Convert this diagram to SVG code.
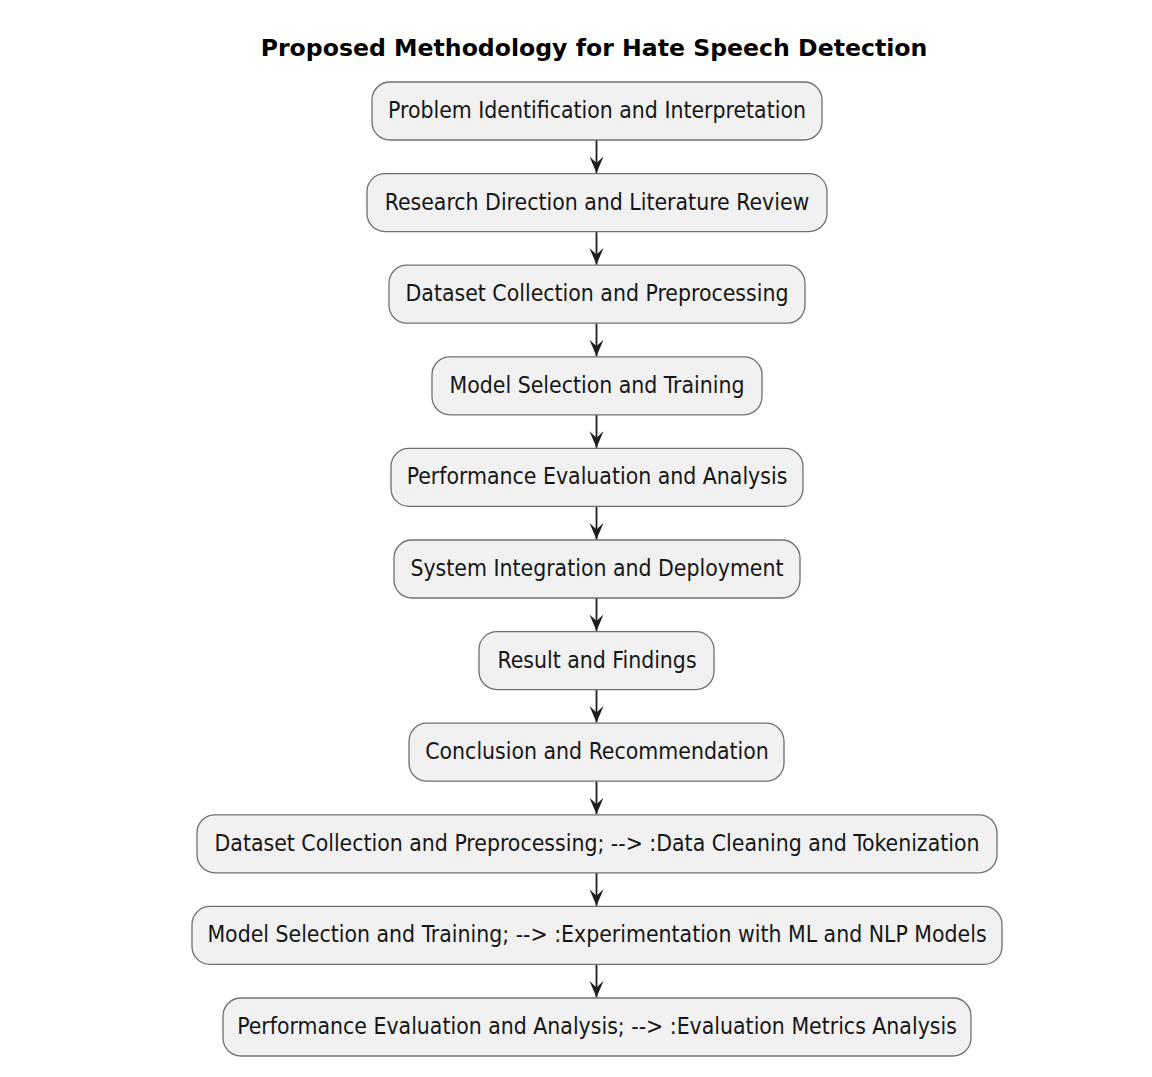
<svg xmlns="http://www.w3.org/2000/svg" width="1152" height="1077" viewBox="0 0 1152 1077">
<defs>
<style>
.bg{fill:#ffffff}
.node rect{fill:#f1f1f1;stroke:#707070;stroke-width:1.3}
.node text{font-family:"DejaVu Sans Condensed","DejaVu Sans",sans-serif;font-stretch:condensed;font-size:22.8px;fill:#161616;text-anchor:middle}
.title{font-family:"DejaVu Sans","Liberation Sans",sans-serif;font-weight:bold;font-size:23.6px;fill:#000;text-anchor:middle}
.edge{stroke:#1e1e1e;stroke-width:1.8;fill:none}
.head{fill:#1e1e1e;stroke:none}
</style>
<marker id="ah" viewBox="0 -8 17 16" refX="16.5" refY="0" markerWidth="17" markerHeight="16" markerUnits="userSpaceOnUse" orient="auto">
<path class="head" d="M0,-7 L16.5,0 L0,7 L6.5,0 Z"/>
</marker>
</defs>
<rect class="bg" x="0" y="0" width="1152" height="1077"/>
<text class="title" x="594" y="55.5">Proposed Methodology for Hate Speech Detection</text>

<g id="edges">
<line class="edge" x1="596.5" y1="140" x2="596.5" y2="173" marker-end="url(#ah)"/>
<line class="edge" x1="596.5" y1="231.6" x2="596.5" y2="264.6" marker-end="url(#ah)"/>
<line class="edge" x1="596.5" y1="323.2" x2="596.5" y2="356.2" marker-end="url(#ah)"/>
<line class="edge" x1="596.5" y1="414.8" x2="596.5" y2="447.8" marker-end="url(#ah)"/>
<line class="edge" x1="596.5" y1="506.4" x2="596.5" y2="539.4" marker-end="url(#ah)"/>
<line class="edge" x1="596.5" y1="598" x2="596.5" y2="631" marker-end="url(#ah)"/>
<line class="edge" x1="596.5" y1="689.6" x2="596.5" y2="722.6" marker-end="url(#ah)"/>
<line class="edge" x1="596.5" y1="781.2" x2="596.5" y2="814.2" marker-end="url(#ah)"/>
<line class="edge" x1="596.5" y1="872.8" x2="596.5" y2="905.8" marker-end="url(#ah)"/>
<line class="edge" x1="596.5" y1="964.4" x2="596.5" y2="997.4" marker-end="url(#ah)"/>
</g>

<g id="n1" class="node"><rect x="372" y="82" width="450" height="58" rx="18"/><text x="597" y="118">Problem Identification and Interpretation</text></g>
<g id="n2" class="node"><rect x="367" y="173.6" width="460" height="58" rx="18"/><text x="597" y="209.6">Research Direction and Literature Review</text></g>
<g id="n3" class="node"><rect x="389" y="265.2" width="416" height="58" rx="18"/><text x="597" y="301.2">Dataset Collection and Preprocessing</text></g>
<g id="n4" class="node"><rect x="432" y="356.8" width="330" height="58" rx="18"/><text x="597" y="392.8">Model Selection and Training</text></g>
<g id="n5" class="node"><rect x="391" y="448.4" width="412" height="58" rx="18"/><text x="597" y="484.4">Performance Evaluation and Analysis</text></g>
<g id="n6" class="node"><rect x="394" y="540" width="406" height="58" rx="18"/><text x="597" y="576">System Integration and Deployment</text></g>
<g id="n7" class="node"><rect x="479" y="631.6" width="235" height="58" rx="18"/><text x="597" y="667.6">Result and Findings</text></g>
<g id="n8" class="node"><rect x="409" y="723.2" width="375" height="58" rx="18"/><text x="597" y="759.2">Conclusion and Recommendation</text></g>
<g id="n9" class="node"><rect x="197" y="814.8" width="800" height="58" rx="18"/><text x="597" y="850.8">Dataset Collection and Preprocessing; --&gt; :Data Cleaning and Tokenization</text></g>
<g id="n10" class="node"><rect x="192" y="906.4" width="810" height="58" rx="18"/><text x="597" y="942.4">Model Selection and Training; --&gt; :Experimentation with ML and NLP Models</text></g>
<g id="n11" class="node"><rect x="223" y="998" width="748" height="58" rx="18"/><text x="597" y="1034">Performance Evaluation and Analysis; --&gt; :Evaluation Metrics Analysis</text></g>
</svg>
